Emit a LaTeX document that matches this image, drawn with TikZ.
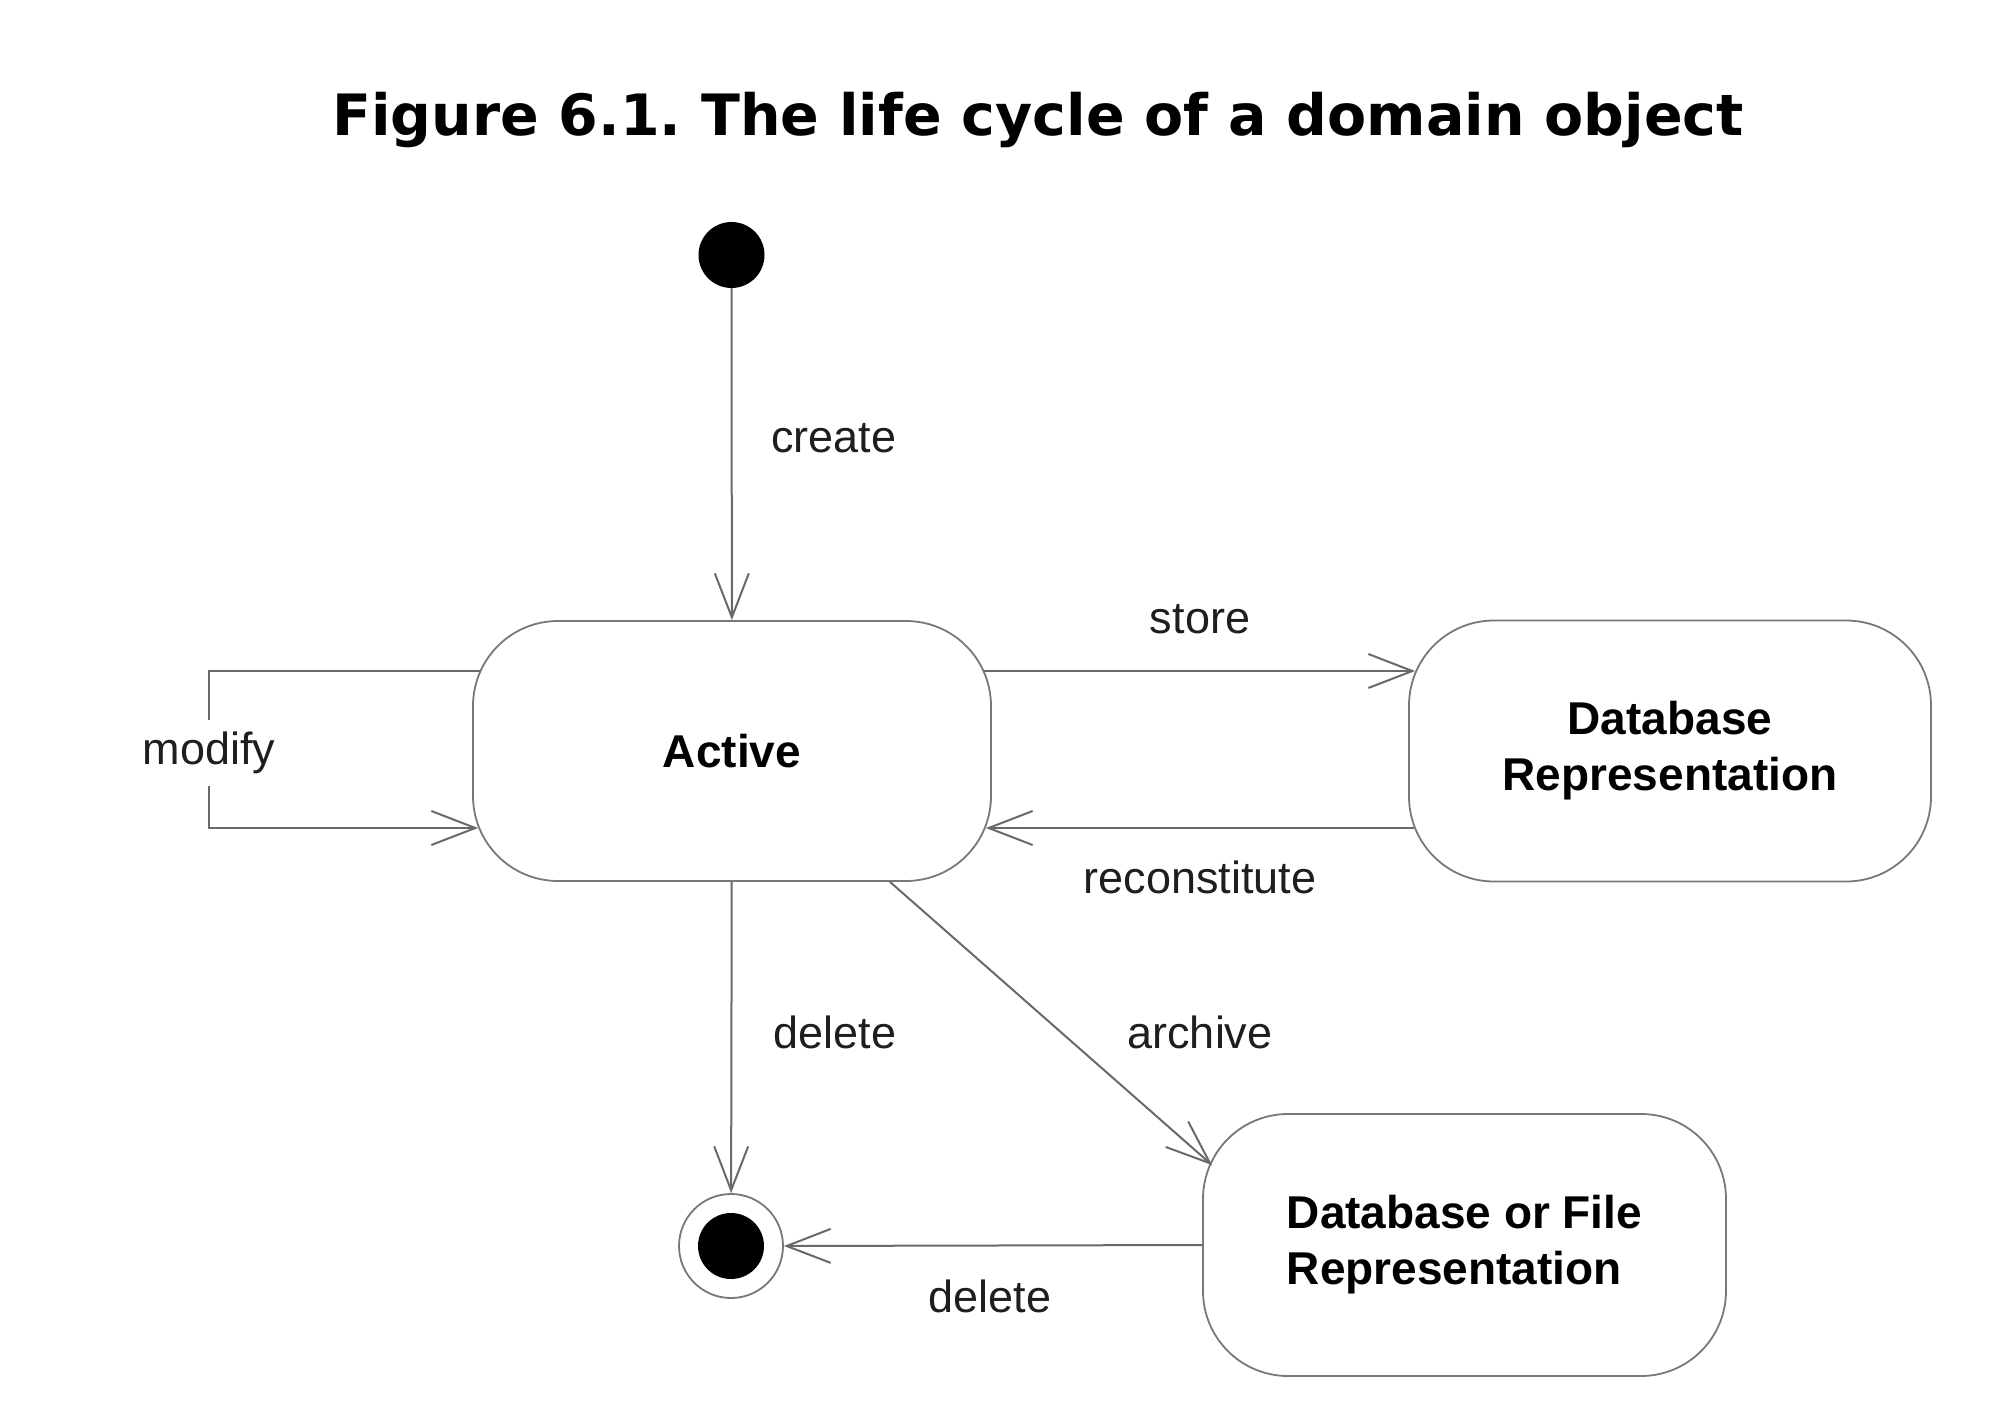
\documentclass[tikz,border=0pt]{standalone}
\usepackage{fontspec}
\setmainfont{Liberation Sans}
\newfontfamily\titlefont{DejaVu Sans}
\usetikzlibrary{arrows.meta,calc}
\definecolor{linegray}{RGB}{105,105,105}
\definecolor{boxgray}{RGB}{120,120,120}
\definecolor{txt}{RGB}{30,30,30}
\frenchspacing
\begin{document}
\begin{tikzpicture}[x=1pt,y=-1pt,
  state/.style={draw=boxgray, line width=1.8pt, rounded corners=85pt, fill=white,
    font=\fontsize{46}{56}\selectfont\bfseries, text=black, inner sep=0pt},
  conn/.style={draw=linegray, line width=2pt,
    -{Straight Barb[length=44pt,width=34pt,line width=2pt]}},
  lbl/.style={font=\fontsize{45}{54}\selectfont, text=txt, inner sep=0pt},
]
\useasboundingbox (0,0) rectangle (2011,1413);

\node[font=\titlefont\bfseries\fontsize{57}{68}\selectfont, anchor=base] (title) at (1038,135)
  {Figure 6.1. The life cycle of a domain object};

% states
\node[circle, fill=black, minimum size=66pt, inner sep=0pt] (init) at (731.5,255) {};
\node[state, minimum width=518pt, minimum height=260pt] (active) at (732,751) {Active};
\node[state, minimum width=522pt, minimum height=261pt, align=center] (db) at (1670,751)
  {Database\\Representation};
\node[state, minimum width=523pt, minimum height=262pt, align=left] (dbf) at (1464.5,1245)
  {Database or File\\Representation};
\node[circle, draw=boxgray, line width=1.8pt, minimum size=104pt, inner sep=0pt] (final) at (731,1246) {};
\fill[black] (final.center) circle[radius=33pt];

% connectors
\draw[conn] (init) -- (active);
\draw[conn] ($(active.east)+(-8,-80)$) -- ($(db.west)+(7,-80)$);
\draw[conn] ($(db.west)+(6,77)$) -- ($(active.east)+(-6,77)$);
\coordinate (mtop) at (209,671);
\coordinate (mbot) at (209,828);
\draw[conn] ($(active.west)+(8,-80)$) -- (mtop) -- (mbot) -- ($(active.west)+(6,77)$);
\draw[conn] (active) -- (final);
\draw[conn] ($(active.south)+(158,0)$) -- ($(dbf.north west)+(10,52)$);
\draw[conn] (dbf.west) -- (final.east);

% labels
\node[lbl, fill=white, inner xsep=4pt, inner ysep=12pt] (modlbl) at (209,753) {modify};
\node[lbl, anchor=base] (createlbl) at (834,452) {create};
\node[lbl, anchor=base] (storelbl) at (1200,633) {store};
\node[lbl, anchor=base] (reconlbl) at (1200,893) {reconstitute};
\node[lbl, anchor=base] (dellbl) at (835,1048) {delete};
\node[lbl, anchor=base] (archlbl) at (1200,1048) {archive};
\node[lbl, anchor=base] (del2lbl) at (990,1312) {delete};
\end{tikzpicture}
\end{document}
